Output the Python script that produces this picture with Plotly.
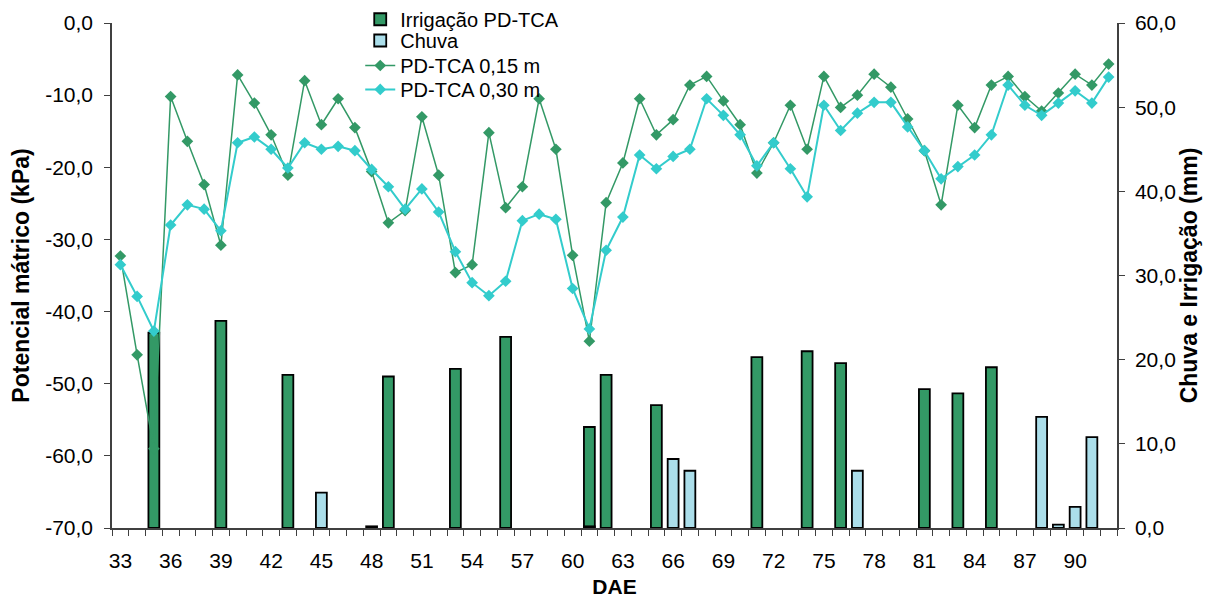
import plotly.graph_objects as go

# ---- data ----
dae = list(range(33, 93))
pd_015 = [-32.3, -46.0, -59.0, -10.2, -16.4, -22.4, -30.8, -7.2, -11.1, -15.5,
          -21.1, -8.0, -14.1, -10.5, -14.5, -20.6, -27.7, -26.0, -13.0, -21.1,
          -34.6, -33.5, -15.2, -25.6, -22.7, -10.5, -17.5, -32.2, -44.1, -24.9,
          -19.4, -10.5, -15.5, -13.4, -8.6, -7.4, -10.8, -14.1, -20.8, -16.6,
          -11.4, -17.5, -7.4, -11.7, -10.0, -7.1, -8.9, -13.3, -17.7, -25.2,
          -11.4, -14.5, -8.6, -7.4, -10.2, -12.2, -9.7, -7.1, -8.6, -5.7]
pd_030 = [-33.5, -37.9, -42.7, -28.0, -25.2, -25.8, -28.8, -16.6, -15.8, -17.5,
          -20.1, -16.6, -17.5, -17.1, -17.7, -20.3, -22.7, -25.8, -23.0, -26.2,
          -31.7, -36.0, -37.8, -35.8, -27.4, -26.5, -27.2, -36.8, -42.4, -31.5,
          -26.9, -18.3, -20.2, -18.5, -17.5, -10.5, -12.8, -15.5, -19.8, -16.6,
          -20.2, -24.1, -11.4, -14.9, -12.5, -11.0, -11.0, -14.4, -17.7, -21.6,
          -19.9, -18.3, -15.5, -8.6, -11.4, -12.8, -11.1, -9.4, -11.1, -7.5]

irrig_dae = [35, 39, 43, 49, 53, 56, 61, 62, 65, 71, 74, 76, 81, 83, 85]
irrig_mm = [23.2, 24.6, 18.2, 18.0, 18.9, 22.7, 12.0, 18.2, 14.6, 20.3, 21.0, 19.6, 16.5, 16.0, 19.1]

chuva_dae = [45, 48, 61, 66, 67, 77, 88, 89, 90, 91]
chuva_mm = [4.2, 0.2, 0.2, 8.2, 6.8, 6.8, 13.2, 0.4, 2.5, 10.8]

x_ticks = list(range(33, 91, 3))
left_vals = [0, -10, -20, -30, -40, -50, -60, -70]
left_text = ["0,0", "-10,0", "-20,0", "-30,0", "-40,0", "-50,0", "-60,0", "-70,0"]
right_vals = [0, 10, 20, 30, 40, 50, 60]
right_text = ["0,0", "10,0", "20,0", "30,0", "40,0", "50,0", "60,0"]

GREEN = "#339966"
CYAN = "#33CCCC"
LIGHTBLUE = "#ABDEEA"
AXC = "#404040"
FONT = "Arial, Liberation Sans, sans-serif"

fig = go.Figure()
fig.add_trace(go.Bar(x=irrig_dae, y=irrig_mm, name="Irrigação PD-TCA", width=0.65,
                     marker=dict(color=GREEN, line=dict(color="black", width=1.8)),
                     yaxis="y", legend="legend"))
fig.add_trace(go.Bar(x=chuva_dae, y=chuva_mm, name="Chuva", width=0.65,
                     marker=dict(color=LIGHTBLUE, line=dict(color="black", width=1.8)),
                     yaxis="y", legend="legend2"))
fig.add_trace(go.Scatter(x=dae, y=pd_015, name="PD-TCA 0,15 m", mode="lines+markers",
                         line=dict(color=GREEN, width=1.5),
                         marker=dict(symbol="diamond", size=9, color=GREEN),
                         yaxis="y2", legend="legend3"))
fig.add_trace(go.Scatter(x=dae, y=pd_030, name="PD-TCA 0,30 m", mode="lines+markers",
                         line=dict(color=CYAN, width=2),
                         marker=dict(symbol="diamond", size=9, color=CYAN),
                         yaxis="y2", legend="legend4"))

def leg(y):
    return dict(x=0.247, y=y, xanchor="left", yanchor="top",
                bgcolor="rgba(0,0,0,0)", font=dict(size=20))

fig.update_layout(
    width=1204, height=593,
    margin=dict(l=104, r=95, t=15, b=73, autoexpand=False),
    paper_bgcolor="white", plot_bgcolor="white",
    barmode="overlay",
    font=dict(family=FONT, size=21, color="black"),
    showlegend=True,
    legend=leg(1.046), legend2=leg(1.004), legend3=leg(0.9545), legend4=leg(0.907),
    xaxis=dict(range=[32.5, 92.5], tickvals=x_ticks, ticktext=[str(v) for v in x_ticks],
               ticks="outside", ticklen=6, tickcolor="rgba(0,0,0,0)", ticklabelstandoff=7,
               showline=True, linecolor=AXC, linewidth=1.5, showgrid=False, zeroline=False,
               minor=dict(ticks="outside", ticklen=6, tick0=32.5, dtick=1, tickcolor=AXC,
                          tickwidth=1, showgrid=False),
               title=dict(text="<b>DAE</b>", font=dict(size=21), standoff=8)),
    yaxis=dict(range=[0, 60], side="right", tickvals=right_vals, ticktext=right_text,
               ticks="outside", ticklen=6, tickcolor=AXC, ticklabelstandoff=6,
               showline=True, linecolor=AXC,
               linewidth=1.5, showgrid=False, zeroline=False,
               title=dict(text="<b>Chuva e Irrigação (mm)</b>", font=dict(size=23), standoff=6)),
    yaxis2=dict(range=[-70, 0], side="left", overlaying="y", tickvals=left_vals, ticktext=left_text,
                ticks="outside", ticklen=6, tickcolor=AXC, ticklabelstandoff=7,
                showline=True, linecolor=AXC,
                linewidth=1.5, showgrid=False, zeroline=False,
                title=dict(text="<b>Potencial mátrico (kPa)</b>", font=dict(size=23), standoff=10)),
)

fig.write_html("out.html")
